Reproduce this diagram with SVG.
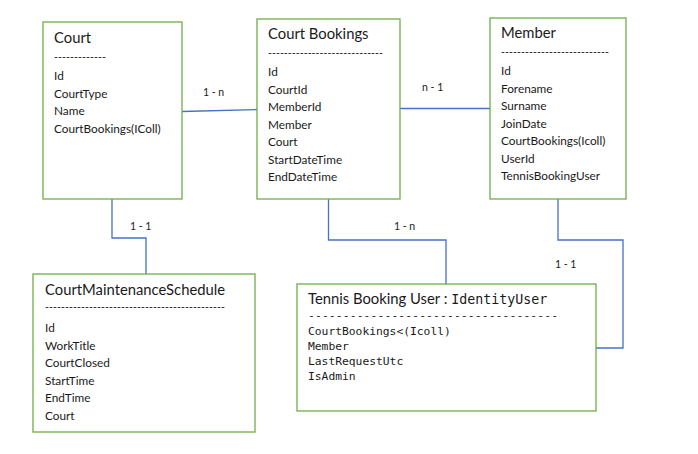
<svg xmlns="http://www.w3.org/2000/svg" width="698" height="454" viewBox="0 0 698 454">
<style>
.box{fill:#fff;stroke:#70AD47;stroke-width:1.3}
.ln{fill:none;stroke:#4472C4;stroke-width:1.3}
.t{font-family:Lato,"Liberation Sans",sans-serif;fill:#1a1a1a}
.h{font-size:14.8px}
.b{font-size:11.8px}
.m{font-family:"DejaVu Sans Mono","Liberation Mono",monospace;fill:#1a1a1a;font-size:11.3px}
.lab{font-family:Lato,"Liberation Sans",sans-serif;font-size:10.5px;fill:#1a1a1a}
</style>
<rect width="698" height="454" fill="#fff"/>
<g id="connectors">
<path class="ln" d="M182,111.5 L257,109.5"/>
<path class="ln" d="M400,108.5 L490,108.5"/>
<path class="ln" d="M112,199 V238 H146 V274"/>
<path class="ln" d="M328.5,199 V240 H446 V284"/>
<path class="ln" d="M558,199 V240 H623 V348 H596"/>
<text class="lab" x="203" y="96">1 - n</text>
<text class="lab" x="422" y="91">n - 1</text>
<text class="lab" x="130" y="230">1 - 1</text>
<text class="lab" x="394" y="230">1 - n</text>
<text class="lab" x="555" y="268">1 - 1</text>
</g>
<g id="court">
<rect class="box" x="43" y="22" width="139" height="177"/>
<text class="t h" x="54" y="43">Court</text>
<text class="t b" x="54" y="61" textLength="52" lengthAdjust="spacingAndGlyphs">-------------</text>
<text class="t b" x="54" y="80">Id</text>
<text class="t b" x="54" y="97.5">CourtType</text>
<text class="t b" x="54" y="115">Name</text>
<text class="t b" x="54" y="132.5">CourtBookings(IColl)</text>
</g>
<g id="court-bookings">
<rect class="box" x="257" y="19" width="143" height="180"/>
<text class="t h" x="268" y="39">Court Bookings</text>
<text class="t b" x="268" y="57" textLength="115" lengthAdjust="spacingAndGlyphs">-----------------------------</text>
<text class="t b" x="268" y="76">Id</text>
<text class="t b" x="268" y="93.5">CourtId</text>
<text class="t b" x="268" y="111">MemberId</text>
<text class="t b" x="268" y="128.5">Member</text>
<text class="t b" x="268" y="146">Court</text>
<text class="t b" x="268" y="163.5">StartDateTime</text>
<text class="t b" x="268" y="181">EndDateTime</text>
</g>
<g id="member">
<rect class="box" x="490" y="18" width="136" height="181"/>
<text class="t h" x="501" y="38">Member</text>
<text class="t b" x="501" y="56" textLength="108" lengthAdjust="spacingAndGlyphs">---------------------------</text>
<text class="t b" x="501" y="75">Id</text>
<text class="t b" x="501" y="92.5">Forename</text>
<text class="t b" x="501" y="110">Surname</text>
<text class="t b" x="501" y="127.5">JoinDate</text>
<text class="t b" x="501" y="145">CourtBookings(Icoll)</text>
<text class="t b" x="501" y="162.5">UserId</text>
<text class="t b" x="501" y="180">TennisBookingUser</text>
</g>
<g id="court-maintenance-schedule">
<rect class="box" x="33" y="274" width="222" height="158"/>
<text class="t h" x="45" y="295">CourtMaintenanceSchedule</text>
<text class="t b" x="45" y="311" textLength="180" lengthAdjust="spacingAndGlyphs">---------------------------------------------</text>
<text class="t b" x="45" y="332">Id</text>
<text class="t b" x="45" y="349.5">WorkTitle</text>
<text class="t b" x="45" y="367">CourtClosed</text>
<text class="t b" x="45" y="384.5">StartTime</text>
<text class="t b" x="45" y="402">EndTime</text>
<text class="t b" x="45" y="419.5">Court</text>
</g>
<g id="tennis-booking-user">
<rect class="box" x="297" y="284" width="299" height="127"/>
<text x="308" y="304"><tspan class="t h">Tennis Booking User : </tspan><tspan style="font-family:'DejaVu Sans Mono','Liberation Mono',monospace;font-size:13.3px;fill:#1a1a1a">IdentityUser</tspan></text>
<text class="m" x="308" y="318.5" textLength="250" lengthAdjust="spacing">------------------------------------</text>
<text class="m" x="308" y="335">CourtBookings&lt;(Icoll)</text>
<text class="m" x="308" y="350">Member</text>
<text class="m" x="308" y="365">LastRequestUtc</text>
<text class="m" x="308" y="380">IsAdmin</text>
</g>
</svg>
